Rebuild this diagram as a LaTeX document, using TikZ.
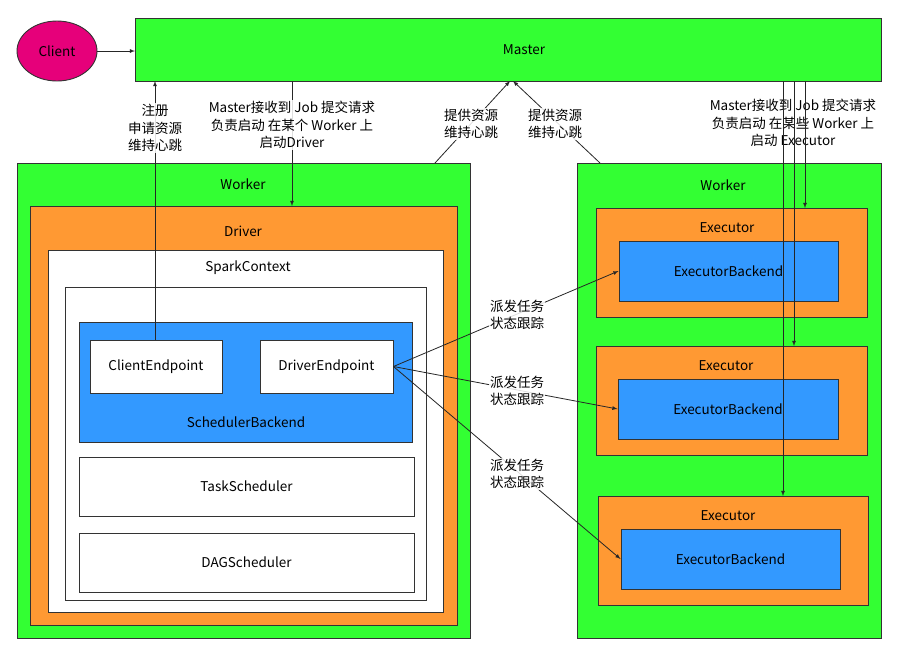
\documentclass[tikz,border=0pt]{standalone}
\usepackage{fontspec}
\setmainfont{Noto Sans CJK SC}
\usetikzlibrary{shapes.geometric}
\definecolor{gr}{HTML}{33FF33}\definecolor{or}{HTML}{FF9933}\definecolor{bl}{HTML}{3399FF}\definecolor{mg}{HTML}{E6007A}
\begin{document}
\begin{tikzpicture}[x=1pt,y=-1pt,
  box/.style={draw=black!80,line width=0.9pt,anchor=north west,inner sep=0pt},
  gbox/.style={box,fill=gr},
  obox/.style={box,fill=or},
  bbox/.style={box,fill=bl},
  wbox/.style={box,fill=white},
  t/.style={font=\fontsize{13.5}{17.5}\selectfont},
  lab/.style={t,fill=white,align=center,inner sep=1pt,fill opacity=0.85,text opacity=1},
  ar/.style={draw=black!85,line width=0.8pt,-latex}]
\useasboundingbox (0,0) rectangle (906,657);
\fill[white] (0,0) rectangle (906,657);
\node[ellipse,draw=black!80,line width=0.9pt,fill=mg,minimum width=80,minimum height=60,t] (client) at (57,51) {Client};
\node[gbox,minimum width=746,minimum height=63] (master) at (135,18) {};
\node[t] at (524,50) {Master};
\node[gbox,minimum width=453,minimum height=475] (w1) at (17,163) {};
\node[t] at (243,184) {Worker};
\node[obox,minimum width=427,minimum height=419] (drv) at (30,206) {};
\node[t] at (243,231) {Driver};
\node[wbox,minimum width=395,minimum height=362] (sc) at (48,250) {};
\node[t] at (248,268) {SparkContext};
\node[wbox,minimum width=361,minimum height=313] (in) at (65,287) {};
\node[bbox,minimum width=333,minimum height=120] (sb) at (79,322) {};
\node[t] at (246,422) {SchedulerBackend};
\node[wbox,minimum width=132,minimum height=53,t,anchor=center] (ce) at (156,366.5) {ClientEndpoint};
\node[wbox,minimum width=133,minimum height=53,t,anchor=center] (de) at (326.5,366.5) {DriverEndpoint};
\node[wbox,minimum width=335,minimum height=59,t,anchor=center] (ts) at (246.5,486.5) {TaskScheduler};
\node[wbox,minimum width=335,minimum height=59,t,anchor=center] (dag) at (246.5,562.5) {DAGScheduler};
\node[gbox,minimum width=304,minimum height=475] (w2) at (577,163) {};
\node[t] at (723,185) {Worker};
\node[obox,minimum width=271,minimum height=109] (e1) at (596,208) {};
\node[t] at (727,228) {Executor};
\node[bbox,minimum width=219,minimum height=60,t,anchor=center] (b1) at (728.5,271) {ExecutorBackend};
\node[obox,minimum width=271,minimum height=109] (e2) at (596,346) {};
\node[t] at (726,366) {Executor};
\node[bbox,minimum width=220,minimum height=60,t,anchor=center] (b2) at (728,409) {ExecutorBackend};
\node[obox,minimum width=270,minimum height=109] (e3) at (598,496) {};
\node[t] at (728,516) {Executor};
\node[bbox,minimum width=219,minimum height=60,t,anchor=center] (b3) at (730.5,559) {ExecutorBackend};
% connectors
\draw[ar] (client) -- (client.east -| master.west);
\coordinate (m1) at (155,81); \coordinate (m2) at (292,81);
\draw[ar] (ce.north -| m1) -- (m1);
\node[lab] at (155,128) {注册\\申请资源\\维持心跳};
\draw[ar] (m2) -- (m2 |- drv.north);
\node[lab] at (292,125) {Master接收到 Job 提交请求\\负责启动 在某个 Worker 上\\启动Driver};
\coordinate (mh) at (510,81); \coordinate (mh2) at (513,81);
\coordinate (w1t) at (435,163); \coordinate (w2t) at (600,163);
\draw[ar] (w1t) -- (mh);
\draw[ar] (w2t) -- (mh2);
\node[lab] at (471,124) {提供资源\\维持心跳};
\node[lab] at (555,124) {提供资源\\维持心跳};
\draw[ar] (de.east) -- (b1.west);
\draw[ar] (de.east) -- (b2.west);
\draw[ar] (de.east) -- (b3.west);
\node[lab] at (517,315) {派发任务\\状态跟踪};
\node[lab] at (517,391) {派发任务\\状态跟踪};
\node[lab] at (517,474) {派发任务\\状态跟踪};
\node[t,fill=white,fill opacity=0.6,text opacity=1,align=center,inner sep=1pt] at (793,123) {Master接收到 Job 提交请求\\负责启动 在某些 Worker 上\\启动 Executor};
\coordinate (x1) at (805,81); \coordinate (x2) at (794,81); \coordinate (x3) at (783,81);
\draw[ar] (x1) -- (x1 |- e1.north);
\draw[ar] (x2) -- (x2 |- e2.north);
\draw[ar] (x3) -- (x3 |- e3.north);
\end{tikzpicture}
\end{document}
